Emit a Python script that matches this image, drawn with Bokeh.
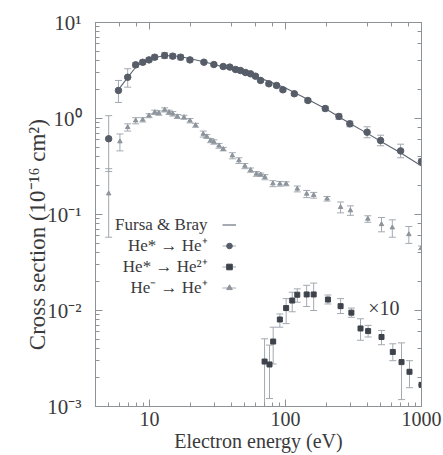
from bokeh.plotting import figure
from bokeh.models import (ColumnDataSource, Whisker, TeeHead, LogAxis,
                          CustomJSTickFormatter, Legend, LegendItem, Label)
from bokeh.embed import file_html
from bokeh.resources import INLINE

# ---------------- data ----------------
# Fursa & Bray theory curve (He* -> He+)
fb_energy = [5.9, 7, 8, 9, 10, 11, 13, 15, 17, 20, 25, 30, 40, 50, 60, 80, 100,
             150, 200, 300, 400, 500, 700, 1000]
fb_sigma = [2.0, 2.75, 3.5, 3.9, 4.15, 4.35, 4.5, 4.5, 4.4, 4.2, 3.9, 3.65, 3.25,
            2.98, 2.75, 2.35, 2.08, 1.55, 1.25, 0.88, 0.70, 0.58, 0.44, 0.32]

# He* -> He+ (filled circles)
s1_energy = [5.0, 5.9, 6.9, 7.9, 8.9, 9.9, 10.9, 12.9, 14.8, 16.9, 19.8, 25.1, 29.7,
             34.8, 38.9, 42.9, 46.6, 50.8, 55.3, 60.1, 65.5, 75.4, 85.9, 95.6, 116,
             146, 196, 247, 297, 398, 500, 702, 1000]
s1_sigma = [0.615, 1.96, 2.69, 3.62, 3.85, 4.08, 4.35, 4.53, 4.46, 4.35, 4.08, 3.86, 3.65,
            3.48, 3.43, 3.24, 3.16, 3.01, 2.92, 2.76, 2.49, 2.30, 2.21, 1.99, 1.81,
            1.54, 1.27, 1.05, 0.88, 0.72, 0.59, 0.46, 0.356]
s1_low = [0.28, 1.47, 2.12, 3.42, 3.66, 3.90, 4.12, 4.22, 4.22, 4.08, 3.90, 3.72, 3.52,
          3.36, 3.31, 3.13, 3.05, 2.90, 2.82, 2.66, 2.40, 2.21, 2.12, 1.91, 1.73,
          1.47, 1.20, 0.98, 0.82, 0.63, 0.52, 0.39, 0.33]
s1_high = [1.07, 2.49, 3.30, 3.84, 4.05, 4.28, 4.58, 4.86, 4.72, 4.62, 4.27, 4.00, 3.78,
           3.60, 3.55, 3.35, 3.27, 3.12, 3.02, 2.86, 2.58, 2.39, 2.30, 2.07, 1.89,
           1.61, 1.34, 1.12, 0.94, 0.82, 0.67, 0.54, 0.38]

# He- -> He+ (triangles)
s2_energy = [5.0, 6.05, 6.9, 7.9, 8.9, 9.9, 10.9, 11.7, 12.9, 13.9, 14.8, 16.0, 17.9,
             19.8, 21.8, 24.8, 26.3, 28.1, 29.7, 32.4, 34.8, 40.6, 45.4, 50.2, 55.3,
             61.0, 65.5, 70.5, 80.7, 90.9, 101, 122, 143, 161, 202, 254, 300, 403,
             508, 610, 807, 1000]
s2_sigma = [0.165, 0.575, 0.81, 0.95, 0.97, 1.07, 1.16, 1.14, 1.23, 1.16, 1.12, 1.05, 1.03,
            0.95, 0.85, 0.69, 0.65, 0.59, 0.57, 0.52, 0.48, 0.41, 0.365, 0.32, 0.29,
            0.265, 0.26, 0.245, 0.21, 0.209, 0.209, 0.185, 0.164, 0.159, 0.146, 0.119,
            0.110, 0.090, 0.079, 0.073, 0.062, 0.045]
s2_low = [0.058, 0.46, 0.74, 0.88, 0.92, 1.02, 1.10, 1.08, 1.17, 1.10, 1.06, 1.00, 0.98,
          0.90, 0.81, 0.64, 0.62, 0.56, 0.54, 0.49, 0.46, 0.38, 0.34, 0.30, 0.275,
          0.25, 0.25, 0.23, 0.195, 0.197, 0.199, 0.172, 0.150, 0.148, 0.138, 0.104,
          0.098, 0.083, 0.066, 0.058, 0.050, 0.043]
s2_high = [0.30, 0.69, 0.88, 1.02, 1.02, 1.12, 1.22, 1.20, 1.29, 1.22, 1.18, 1.10, 1.08,
           1.00, 0.89, 0.74, 0.68, 0.62, 0.60, 0.55, 0.50, 0.44, 0.39, 0.34, 0.305,
           0.28, 0.27, 0.26, 0.225, 0.221, 0.219, 0.198, 0.178, 0.170, 0.154, 0.135,
           0.123, 0.097, 0.093, 0.088, 0.075, 0.047]

# He* -> He2+ (squares, plotted x10)
s3_energy = [70.1, 76.2, 81.1, 90.8, 101, 112, 122, 143, 161, 205, 254, 305, 356, 405,
             508, 615, 713, 816, 1000]
s3_sigma = [0.00294, 0.00274, 0.00475, 0.00806, 0.0106, 0.0127, 0.0146, 0.0147, 0.0147,
            0.0130, 0.0111, 0.0095, 0.0065, 0.0061, 0.0053, 0.0037, 0.0029, 0.0023, 0.00168]
s3_low = [0.0010, 0.00121, 0.00277, 0.0067, 0.0073, 0.0097, 0.0122, 0.0110, 0.0100,
          0.0117, 0.0093, 0.0085, 0.0049, 0.0053, 0.0044, 0.0030, 0.00118, 0.00157, 0.00168]
s3_high = [0.00507, 0.00436, 0.0067, 0.0092, 0.0133, 0.0155, 0.0168, 0.0183, 0.0193,
           0.0145, 0.0133, 0.0106, 0.0082, 0.0070, 0.0062, 0.0045, 0.0046, 0.0030, 0.00168]

legend_labels = ["Fursa & Bray", "He* \u2192 He\u207a", "He* \u2192 He\u00b2\u207a",
                 "He\u207b \u2192 He\u207a"]
x_title = "Electron energy (eV)"
y_title = "Cross section (10\u207b\u00b9\u2076 cm\u00b2)"

# ---------------- styling ----------------
FONT = "Liberation Serif"
TXT = "#3a3a3c"
AX = "#8e939a"
C_LINE = "#5d6571"
C_S1 = "#575d68"
C_S2 = "#8d949c"
C_S3 = "#3e434b"
C_ERR = "#a3a9b1"

p = figure(width=443, height=455, x_axis_type="log", y_axis_type="log",
           x_range=(4, 1000), y_range=(1e-3, 10),
           output_backend="svg", toolbar_location=None,
           min_border_left=95, min_border_right=22, min_border_top=22,
           min_border_bottom=49)
p.grid.visible = False
p.outline_line_color = AX
p.background_fill_color = "white"
p.border_fill_color = "white"

sup_code = """
const e = Math.round(Math.log10(tick));
const m = {'-':'\u207b','0':'\u2070','1':'\u00b9','2':'\u00b2','3':'\u00b3','4':'\u2074',
           '5':'\u2075','6':'\u2076','7':'\u2077','8':'\u2078','9':'\u2079'};
return '10' + String(e).split('').map(c => m[c]).join('');
"""
p.yaxis.formatter = CustomJSTickFormatter(code=sup_code)
p.xaxis.formatter = CustomJSTickFormatter(code="return Math.round(tick).toString();")

def style_axis(ax):
    ax.axis_line_color = AX
    ax.major_tick_line_color = AX
    ax.minor_tick_line_color = AX
    ax.major_tick_in = 7
    ax.major_tick_out = 0
    ax.minor_tick_in = 4
    ax.minor_tick_out = 0
    ax.major_label_text_font = FONT
    ax.major_label_text_color = TXT
    ax.axis_label_text_font = FONT
    ax.axis_label_text_color = TXT
    ax.axis_label_text_font_style = "normal"

for ax in p.xaxis + p.yaxis:
    style_axis(ax)
p.xaxis.major_label_text_font_size = "20px"
p.yaxis.major_label_text_font_size = "21px"
p.xaxis.axis_label = x_title
p.xaxis.axis_label_text_font_size = "20px"
p.xaxis.major_label_standoff = 5
p.xaxis.axis_label_standoff = 1
p.yaxis.axis_label = y_title + "\u00a0" * 7
p.yaxis.axis_label_text_font_size = "23px"
p.yaxis.major_label_standoff = 14
p.yaxis.axis_label_standoff = -6

blank = CustomJSTickFormatter(code="return '';")
top = LogAxis(formatter=blank, major_label_standoff=0)
right = LogAxis(formatter=blank, major_label_standoff=0)
style_axis(top)
style_axis(right)
p.add_layout(top, "above")
p.add_layout(right, "right")

# ---------------- data marks ----------------
src1 = ColumnDataSource(dict(x=s1_energy, y=s1_sigma, lo=s1_low, hi=s1_high))
src2 = ColumnDataSource(dict(x=s2_energy, y=s2_sigma, lo=s2_low, hi=s2_high))
src3 = ColumnDataSource(dict(x=s3_energy, y=s3_sigma, lo=s3_low, hi=s3_high))

for src in (src1, src2, src3):
    w = Whisker(source=src, base="x", lower="lo", upper="hi",
                line_color=C_ERR, line_width=1,
                upper_head=TeeHead(size=7, line_color=C_ERR, line_width=1),
                lower_head=TeeHead(size=7, line_color=C_ERR, line_width=1))
    p.add_layout(w)

r_line = p.line(fb_energy, fb_sigma, line_color=C_LINE, line_width=1.1)
r1 = p.scatter("x", "y", source=src1, marker="circle", size=6.5,
               fill_color=C_S1, line_color=C_S1)
r2 = p.scatter("x", "y", source=src2, marker="triangle", size=4.5,
               fill_color=C_S2, line_color=C_S2)
r3 = p.scatter("x", "y", source=src3, marker="square", size=5,
               fill_color=C_S3, line_color=C_S3)

# legend glyph samples: error-bar style line behind each marker
nan = float("nan")
d1 = p.line(x=[nan], y=[nan], line_color=C_ERR, line_width=1)
d2 = p.line(x=[nan], y=[nan], line_color=C_ERR, line_width=1)
d3 = p.line(x=[nan], y=[nan], line_color=C_ERR, line_width=1)

legend = Legend(items=[
    LegendItem(label=" ", renderers=[r_line]),
    LegendItem(label=" ", renderers=[d1, r1]),
    LegendItem(label=" ", renderers=[d3, r3]),
    LegendItem(label=" ", renderers=[d2, r2]),
], location=(127, 108), glyph_width=14, glyph_height=21, label_height=21,
    label_width=0, label_standoff=0, padding=0, margin=0, spacing=0,
    border_line_alpha=0, background_fill_alpha=0, label_text_font_size="1px")
p.add_layout(legend)

legend_x = [26.7, 26.7, 26.7, 26.7]
legend_y = [0.0787, 0.0475, 0.0287, 0.0174]
for lx, ly, lt in zip(legend_x, legend_y, legend_labels):
    p.add_layout(Label(x=lx, y=ly, text=lt, text_align="right", text_baseline="middle",
                       text_font=FONT, text_font_size="17px", text_color=TXT))

p.add_layout(Label(x=405, y=0.0105, text="\u00d710", text_align="left",
                   text_baseline="middle", text_font=FONT, text_font_size="20px",
                   text_color=TXT))

open("out.html", "w").write(file_html(p, INLINE))
